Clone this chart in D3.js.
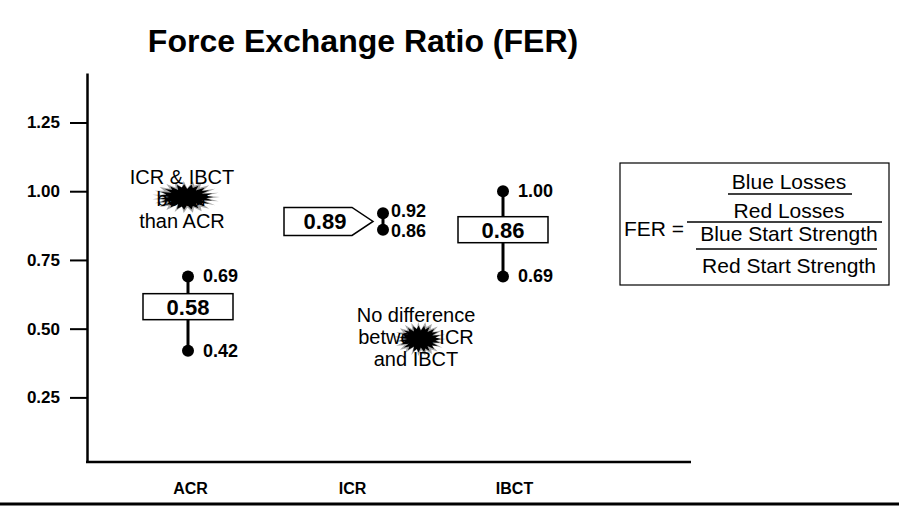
<!DOCTYPE html>
<html>
<head>
<meta charset="utf-8">
<script src="https://cdn.jsdelivr.net/npm/d3@7"></script>
<style>
  body { margin: 0; background: #fff; }
  svg { font-family: "Liberation Sans", Arial, Helvetica, sans-serif; }
  .tick text { font-weight: bold; font-size: 17px; fill: #000; }
</style>
</head>
<body>
<div id="chart"></div>
<script>
var categories = ["ACR", "ICR", "IBCT"];
var means = [0.58, 0.89, 0.86];
var highs = [0.69, 0.92, 1.00];
var lows = [0.42, 0.86, 0.69];
var yTicks = [0.25, 0.50, 0.75, 1.00, 1.25];

var notes = [
  ["ICR & IBCT", "better", "than ACR"],
  ["No difference", "between ICR", "and IBCT"]
];
var ferLines = ["Blue Losses", "Red Losses", "Blue Start Strength", "Red Start Strength"];

function drawChart() {

  var width = 899, height = 510;
  var plotLeft = 87, plotRight = 691, plotTop = 73, plotBottom = 462;

  var svg = d3.select("#chart")
    .append("svg")
      .attr("width", width)
      .attr("height", height);

  svg.append("rect").attr("width", width).attr("height", height).attr("fill", "#fff");

  var y = d3.scaleLinear()
    .domain([0.015, 1.43])
    .range([plotBottom, plotTop]);

  // category labels sit on an even grid, the marks were drawn a bit off it
  var xLab = d3.scalePoint()
    .domain(categories)
    .range([190, 514]);

  var xMark = d3.scaleOrdinal()
    .domain(categories)
    .range([188, 383, 503]);

  var data = categories.map(function (c, i) {
    return { cat: c, mean: means[i], hi: highs[i], lo: lows[i] };
  });

  // title
  svg.append("text")
    .attr("x", 363)
    .attr("y", 52)
    .attr("text-anchor", "middle")
    .style("font-size", "32px")
    .style("font-weight", "bold")
    .text("Force Exchange Ratio (FER)");

  // y axis
  svg.append("g")
    .attr("transform", "translate(" + plotLeft + ",0)")
    .call(d3.axisLeft(y)
      .tickValues(yTicks)
      .tickFormat(d3.format(".2f"))
      .tickSize(17)
      .tickSizeOuter(0)
      .tickPadding(10))
    .call(g => g.select(".domain").attr("stroke-width", 2.5))
    .call(g => g.selectAll(".tick line").attr("stroke-width", 2));

  // x axis line
  svg.append("line")
    .attr("x1", plotLeft - 1)
    .attr("x2", plotRight)
    .attr("y1", plotBottom)
    .attr("y2", plotBottom)
    .attr("stroke", "#000")
    .attr("stroke-width", 2.5);

  svg.append("g")
    .attr("transform", "translate(0," + (plotBottom + 32) + ")")
    .call(d3.axisBottom(xLab).tickSize(0).tickPadding(0))
    .call(g => g.select(".domain").remove())
    .selectAll("text")
    .style("font-size", "16px")
    .attr("dy", 0);

  // bottom rule
  svg.append("line")
    .attr("x1", 0)
    .attr("x2", width)
    .attr("y1", 504)
    .attr("y2", 504)
    .attr("stroke", "#000")
    .attr("stroke-width", 3);

  // stems
  svg.selectAll(".stem")
    .data(data)
    .enter()
    .append("line")
    .attr("class", "stem")
    .attr("x1", function (d) { return xMark(d.cat); })
    .attr("x2", function (d) { return xMark(d.cat); })
    .attr("y1", function (d) { return y(d.hi); })
    .attr("y2", function (d) { return y(d.lo); })
    .attr("stroke", "#000")
    .attr("stroke-width", 3);

  // mean boxes
  data.forEach(function (d) {
    var cx = xMark(d.cat), cy = y(d.mean);
    var g = svg.append("g");
    if (d.cat == "ICR") {
      // arrow shaped label pointing at the range
      var h = 28;
      g.append("path")
        .attr("d", "M" + (cx - 99) + "," + (cy - h / 2) +
                   "H" + (cx - 31) + "L" + (cx - 10) + "," + cy +
                   "L" + (cx - 31) + "," + (cy + h / 2) +
                   "H" + (cx - 99) + "Z")
        .attr("fill", "#fff")
        .attr("stroke", "#000")
        .attr("stroke-width", 1.5);
      g.append("text")
        .attr("x", cx - 58)
        .attr("y", cy + 8)
        .attr("text-anchor", "middle")
        .style("font-size", "22px")
        .style("font-weight", "bold")
        .text(d3.format(".2f")(d.mean));
    } else {
      g.append("rect")
        .attr("x", cx - 45)
        .attr("y", cy - 13)
        .attr("width", 90)
        .attr("height", 26)
        .attr("fill", "#fff")
        .attr("stroke", "#000")
        .attr("stroke-width", 1.5);
      g.append("text")
        .attr("x", cx)
        .attr("y", cy + 8)
        .attr("text-anchor", "middle")
        .style("font-size", "22px")
        .style("font-weight", "bold")
        .text(d3.format(".2f")(d.mean));
    }
  });

  // end points and their labels
  var ends = [];
  data.forEach(function (d) {
    // keep the two labels from running into each other when the range is short
    var gap = Math.max(0, 20 - (y(d.lo) - y(d.hi))) / 2;
    ends.push({ cat: d.cat, v: d.hi, nudge: -gap });
    ends.push({ cat: d.cat, v: d.lo, nudge: gap });
  });

  svg.selectAll(".dot")
    .data(ends)
    .enter()
    .append("circle")
    .attr("class", "dot")
    .attr("cx", function (d) { return xMark(d.cat); })
    .attr("cy", function (d) { return y(d.v); })
    .attr("r", 6)
    .attr("fill", "#000");

  svg.selectAll(".dotlabel")
    .data(ends)
    .enter()
    .append("text")
    .attr("class", "dotlabel")
    .attr("x", function (d) { return xMark(d.cat) + (d.cat == "ICR" ? 8 : 15); })
    .attr("y", function (d) { return y(d.v) + 6 + d.nudge; })
    .style("font-size", "18px")
    .style("font-weight", "bold")
    .text(function (d) { return d3.format(".2f")(d.v); });

  // annotations with the ink blot over them
  function blot(cx, cy, rx, ry) {
    var n = 46;
    var pts = [];
    for (var i = 0; i < n; i++) {
      var a = i / n * Math.PI * 2;
      var k = (i % 2 == 0) ? 1 : 0.55 + 0.25 * ((i * 7) % 5) / 5;
      pts.push([cx + Math.cos(a) * rx * k, cy + Math.sin(a) * ry * k]);
    }
    svg.append("path")
      .attr("d", d3.line().curve(d3.curveLinearClosed)(pts))
      .attr("fill", "#000")
      .attr("opacity", 0.35);
    pts = [];
    for (var j = 0; j < n; j++) {
      var b = j / n * Math.PI * 2;
      var m = (j % 2 == 0) ? 0.8 : 0.45 + 0.2 * ((j * 3) % 4) / 4;
      pts.push([cx + Math.cos(b) * rx * m, cy + Math.sin(b) * ry * m]);
    }
    svg.append("path")
      .attr("d", d3.line().curve(d3.curveLinearClosed)(pts))
      .attr("fill", "#000");
  }

  function note(lines, cx, cy) {
    var t = svg.append("text")
      .attr("text-anchor", "middle")
      .style("font-size", "20px");
    lines.forEach(function (l, i) {
      t.append("tspan")
        .attr("x", cx)
        .attr("y", cy + (i - 1) * 22 + 7)
        .text(l);
    });
  }

  note(notes[0], 182, 199);
  blot(186, 197, 34, 16);
  note(notes[1], 416, 337);
  blot(420, 339, 26, 17);

  // FER definition box
  var fer = svg.append("g");
  fer.append("rect")
    .attr("x", 620)
    .attr("y", 163)
    .attr("width", 269)
    .attr("height", 122)
    .attr("fill", "none")
    .attr("stroke", "#000")
    .attr("stroke-width", 1.2);

  fer.append("text")
    .attr("x", 624)
    .attr("y", 236)
    .style("font-size", "21px")
    .text("FER =");

  var lineY = [189, 218, 241, 273];
  fer.selectAll(".ferline")
    .data(ferLines)
    .enter()
    .append("text")
    .attr("class", "ferline")
    .attr("x", 789)
    .attr("y", function (d, i) { return lineY[i]; })
    .attr("text-anchor", "middle")
    .style("font-size", "21px")
    .text(function (d) { return d; });

  var bars = [[728, 852, 194], [687, 882, 222], [696, 877, 249]];
  fer.selectAll(".ferbar")
    .data(bars)
    .enter()
    .append("line")
    .attr("class", "ferbar")
    .attr("x1", function (d) { return d[0]; })
    .attr("x2", function (d) { return d[1]; })
    .attr("y1", function (d) { return d[2]; })
    .attr("y2", function (d) { return d[2]; })
    .attr("stroke", "#000")
    .attr("stroke-width", 1.5);
}

drawChart();
</script>
</body>
</html>
